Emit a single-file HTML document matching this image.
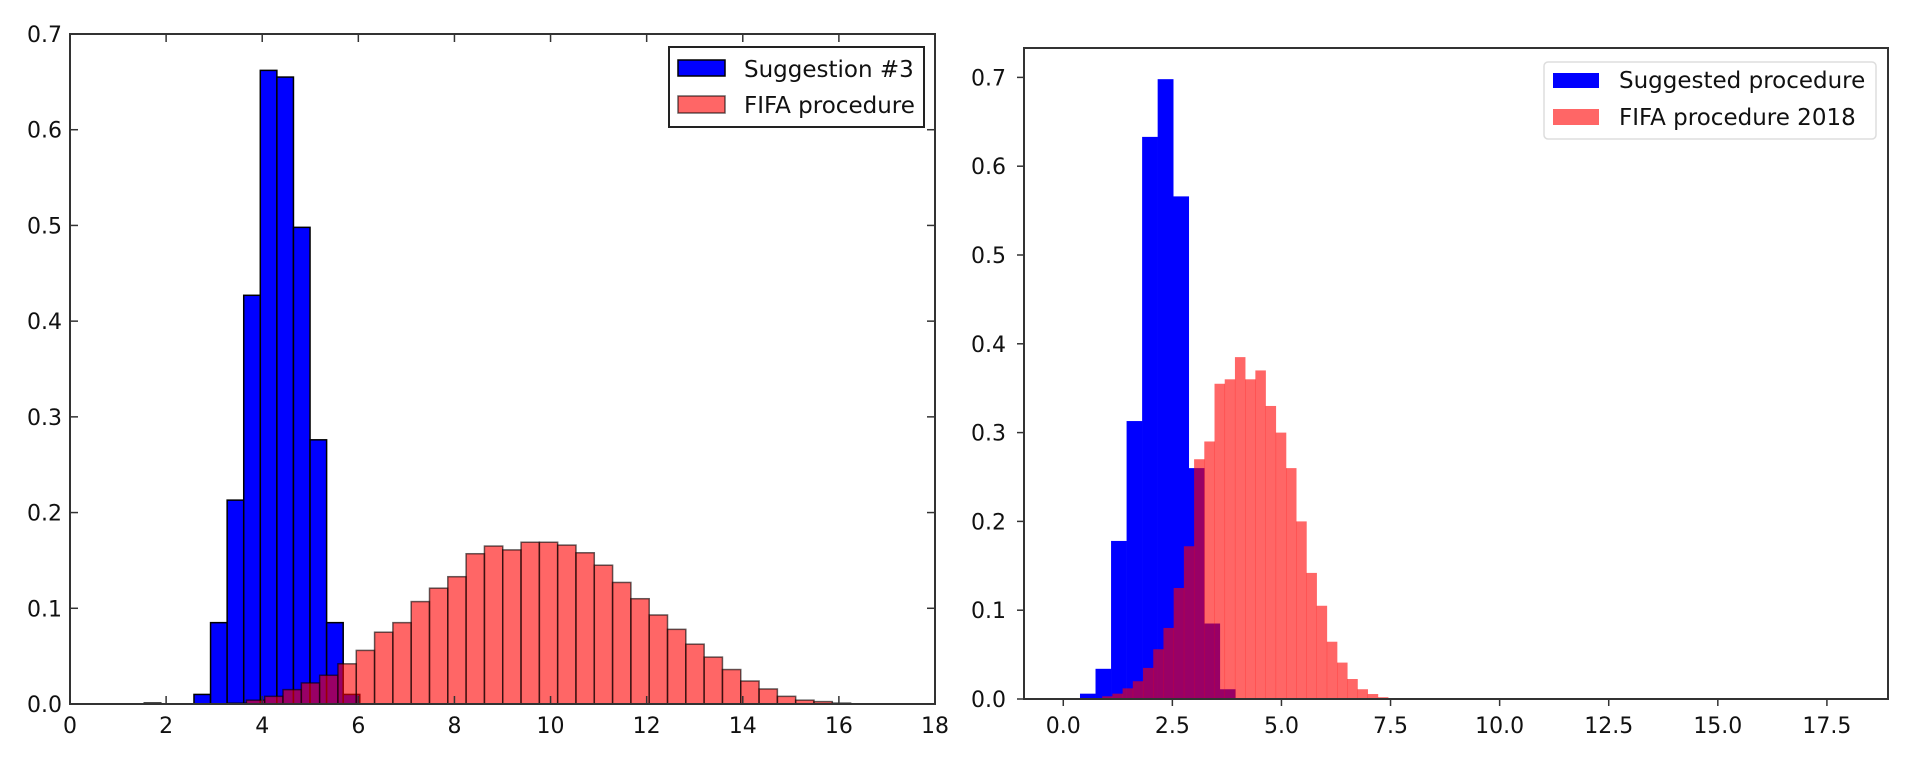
<!DOCTYPE html>
<html><head><meta charset="utf-8">
<style>
html,body{margin:0;padding:0;background:#fff;}
svg{display:block;}
text{font-family:"DejaVu Sans","Liberation Sans",sans-serif;fill:#111;}
</style></head>
<body>
<svg id="root" width="1920" height="765" viewBox="0 0 1920 765">
  <g id="left"></g>
  <g id="right"></g>
</svg>
<script>
// ---- Left chart data ----
const leftBlueStart = 1.545;
const leftBlueWidth = 0.345;
const leftBlueValues = [0.001,0,0,0.01,0.085,0.213,0.427,0.662,0.655,0.498,0.276,0.085,0.01];
const leftRedStart = 3.29;
const leftRedWidth = 0.381;
const leftRedValues = [0.001,0.004,0.008,0.015,0.022,0.030,0.042,0.056,0.075,0.085,0.107,0.121,0.133,0.157,0.165,0.161,0.169,0.169,0.166,0.158,0.145,0.127,0.110,0.093,0.078,0.0625,0.049,0.036,0.024,0.0157,0.008,0.004,0.0025,0.001];
const leftXTicks = [0,2,4,6,8,10,12,14,16,18];
const leftXTickLabels = ["0","2","4","6","8","10","12","14","16","18"];
const leftYTicks = [0,0.1,0.2,0.3,0.4,0.5,0.6,0.7];
const leftYTickLabels = ["0.0","0.1","0.2","0.3","0.4","0.5","0.6","0.7"];
const leftLegendLabels = ["Suggestion #3","FIFA procedure"];

// ---- Right chart data ----
const rightBlueStart = 0.383;
const rightBlueWidth = 0.356;
const rightBlueValues = [0.006,0.034,0.178,0.313,0.633,0.698,0.566,0.26,0.085,0.011];
const rightRedStart = 0.658;
const rightRedWidth = 0.234;
const rightRedValues = [0.001,0.003,0.006,0.012,0.02,0.035,0.056,0.08,0.125,0.172,0.27,0.29,0.355,0.36,0.385,0.36,0.37,0.33,0.30,0.26,0.20,0.142,0.105,0.0645,0.041,0.0225,0.011,0.0056,0.002];
const rightXTicks = [0,2.5,5,7.5,10,12.5,15,17.5];
const rightXTickLabels = ["0.0","2.5","5.0","7.5","10.0","12.5","15.0","17.5"];
const rightYTicks = [0,0.1,0.2,0.3,0.4,0.5,0.6,0.7];
const rightYTickLabels = ["0.0","0.1","0.2","0.3","0.4","0.5","0.6","0.7"];
const rightLegendLabels = ["Suggested procedure","FIFA procedure 2018"];

const NS = "http://www.w3.org/2000/svg";
function mk(parent, tag, attrs){
  const e = document.createElementNS(NS, tag);
  for (const k in attrs) e.setAttribute(k, attrs[k]);
  parent.appendChild(e);
  return e;
}

// ---- Left axes ----
const L = {x0:70, x1:935, y0:704, y1:34, xmin:0, xmax:18, ymin:0, ymax:0.7};
function lx(v){ return L.x0 + (v-L.xmin)/(L.xmax-L.xmin)*(L.x1-L.x0); }
function ly(v){ return L.y0 - (v-L.ymin)/(L.ymax-L.ymin)*(L.y0-L.y1); }

// ---- Right axes ----
const R = {x0:1024, x1:1888, y0:699, y1:48, xmin:-0.9, xmax:18.9, ymin:0, ymax:0.7331};
function rx(v){ return R.x0 + (v-R.xmin)/(R.xmax-R.xmin)*(R.x1-R.x0); }
function ry(v){ return R.y0 - (v-R.ymin)/(R.ymax-R.ymin)*(R.y0-R.y1); }

const gl = document.getElementById('left');
const gr = document.getElementById('right');

// Left bars
leftBlueValues.forEach((v,i)=>{
  if (v<=0) return;
  const a = leftBlueStart + i*leftBlueWidth;
  const r = mk(gl,'rect',{x:lx(a), y:ly(v), width:lx(a+leftBlueWidth)-lx(a), height:ly(0)-ly(v), fill:'#0000ff', stroke:'#000', 'stroke-width':1.5});
  
  
});
leftRedValues.forEach((v,i)=>{
  const a = leftRedStart + i*leftRedWidth;
  const r = mk(gl,'rect',{x:lx(a), y:ly(v), width:lx(a+leftRedWidth)-lx(a), height:ly(0)-ly(v), fill:'rgba(255,0,0,0.6)', stroke:'rgba(0,0,0,0.6)', 'stroke-width':1.5});
  
  
});
// left frame
const lf = mk(gl,'rect',{x:L.x0,y:L.y1,width:L.x1-L.x0,height:L.y0-L.y1,fill:'none',stroke:'#333','stroke-width':2});


// left ticks (inside, all sides)
leftXTicks.forEach((t,i)=>{
  const x = lx(t);
  mk(gl,'line',{x1:x,y1:L.y0,x2:x,y2:L.y0-8,stroke:'#333','stroke-width':1.5});
  mk(gl,'line',{x1:x,y1:L.y1,x2:x,y2:L.y1+8,stroke:'#333','stroke-width':1.5});
  const tx = mk(gl,'text',{x:x,y:733,'text-anchor':'middle','font-size':22});
  tx.textContent = leftXTickLabels[i];
  
  
});
leftYTicks.forEach((t,i)=>{
  const y = ly(t);
  mk(gl,'line',{x1:L.x0,y1:y,x2:L.x0+8,y2:y,stroke:'#333','stroke-width':1.5});
  mk(gl,'line',{x1:L.x1,y1:y,x2:L.x1-8,y2:y,stroke:'#333','stroke-width':1.5});
  const tx = mk(gl,'text',{x:62,y:y+8,'text-anchor':'end','font-size':22});
  tx.textContent = leftYTickLabels[i];
  
  
});
// left legend
const llg = mk(gl,'g',{});


mk(llg,'rect',{x:669,y:47,width:255,height:80,fill:'#fff',stroke:'#222','stroke-width':2});
mk(llg,'rect',{x:678,y:60,width:47,height:16,fill:'#0000ff',stroke:'#000','stroke-width':1.5});
mk(llg,'rect',{x:678,y:96,width:47,height:17,fill:'rgba(255,0,0,0.6)',stroke:'rgba(0,0,0,0.6)','stroke-width':1.5});
leftLegendLabels.forEach((s,i)=>{
  const tx = mk(llg,'text',{x:744,y:[77,113][i],'font-size':23});
  tx.textContent = s;
  
  
});

// Right bars
rightBlueValues.forEach((v,i)=>{
  const a = rightBlueStart + i*rightBlueWidth;
  const r = mk(gr,'rect',{x:rx(a), y:ry(v), width:rx(a+rightBlueWidth)-rx(a)+0.3, height:ry(0)-ry(v), fill:'#0000ff'});
  
  
});
rightRedValues.forEach((v,i)=>{
  const a = rightRedStart + i*rightRedWidth;
  const r = mk(gr,'rect',{x:rx(a), y:ry(v), width:rx(a+rightRedWidth)-rx(a)+0.3, height:ry(0)-ry(v), fill:'rgba(255,0,0,0.6)'});
  
  
});
const rf = mk(gr,'rect',{x:R.x0,y:R.y1,width:R.x1-R.x0,height:R.y0-R.y1,fill:'none',stroke:'#333','stroke-width':2});


rightXTicks.forEach((t,i)=>{
  const x = rx(t);
  mk(gr,'line',{x1:x,y1:R.y0,x2:x,y2:R.y0+7,stroke:'#333','stroke-width':1.5});
  const tx = mk(gr,'text',{x:x,y:733,'text-anchor':'middle','font-size':22});
  tx.textContent = rightXTickLabels[i];
  
  
});
rightYTicks.forEach((t,i)=>{
  const y = ry(t);
  mk(gr,'line',{x1:R.x0,y1:y,x2:R.x0-7,y2:y,stroke:'#333','stroke-width':1.5});
  const tx = mk(gr,'text',{x:1006,y:y+8,'text-anchor':'end','font-size':22});
  tx.textContent = rightYTickLabels[i];
  
  
});
const rlg = mk(gr,'g',{});


mk(rlg,'rect',{x:1544,y:62,width:332,height:77,rx:4,fill:'#fff',stroke:'#ddd','stroke-width':1.5});
mk(rlg,'rect',{x:1553,y:73,width:46,height:15,fill:'#0000ff'});
mk(rlg,'rect',{x:1553,y:109,width:46,height:16,fill:'rgba(255,0,0,0.6)'});
rightLegendLabels.forEach((s,i)=>{
  const tx = mk(rlg,'text',{x:1619,y:[88,125][i],'font-size':23});
  tx.textContent = s;
  
  
});
</script>
</body></html>
